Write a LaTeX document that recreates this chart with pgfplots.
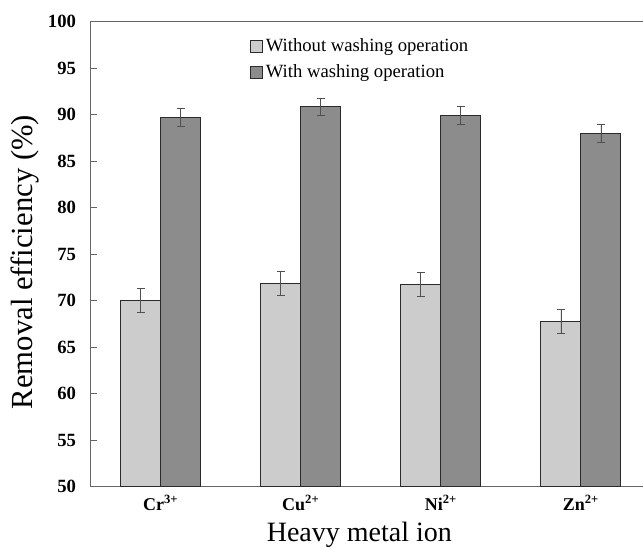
\documentclass[border=0pt]{standalone}
\usepackage{pgfplots}
\pgfplotsset{compat=1.18}
\usepackage{fontspec}
\setmainfont{Liberation Serif}

\definecolor{lightbar}{HTML}{CCCCCC}
\definecolor{darkbar}{HTML}{8C8C8C}
\definecolor{edgec}{HTML}{2A2A2A}
\definecolor{errc}{HTML}{505050}

\begin{document}
\begin{tikzpicture}
\begin{axis}[
  at={(0,0)}, anchor=south west,
  scale only axis, width=414.75pt, height=348.75pt,
  ybar=0pt, bar width=30pt,
  xmin=-0.505, xmax=3.443,
  ymin=50, ymax=100, ytick={50,55,...,100},
  xtick=data,
  xticklabels={Cr\textsuperscript{3+}, Cu\textsuperscript{2+}, Ni\textsuperscript{2+}, Zn\textsuperscript{2+}},
  axis x line=box, axis y line=left,
  axis line style={-, draw=black!60, line width=0.7pt},
  x axis line style={-},
  tick align=inside, major tick length=5pt,
  major x tick style={draw=none},
  y tick style={black!60, line width=0.6pt},
  /pgf/number format/assume math mode=true,
  yticklabel style={font=\fontsize{14}{16}\selectfont\bfseries, xshift=-7pt},
  xticklabel style={font=\fontsize{13.5}{15}\selectfont\bfseries, yshift=-3pt},
  xlabel={Heavy metal ion}, ylabel={Removal efficiency (\%)},
  every axis x label/.style={at={(axis description cs:0.487,-0.119)}, anchor=base,
    font=\fontsize{21}{25}\selectfont},
  every axis y label/.style={at={(axis description cs:-0.1175,0.483)}, rotate=90, anchor=center,
    font=\fontsize{23}{27}\selectfont},
  legend style={draw=none, fill=none, at={(axis description cs:0.289,0.919)}, anchor=west,
    font=\fontsize{14}{16}\selectfont, row sep=4pt, inner sep=0pt,
    /tikz/every even column/.append style={column sep=6pt}},
  legend cell align=left,
  legend image code/.code={\draw[#1] (0pt,-4.5pt) rectangle (9pt,4.5pt);},
  error bars/error bar style={errc, line width=0.6pt},
  error bars/error mark options={rotate=90, mark size=3pt, errc, line width=0.6pt},
]
\addplot[fill=lightbar, draw=edgec, line width=0.8pt,
  error bars/.cd, y dir=both, y explicit]
  coordinates {(0,70.0) +- (0,1.3) (1,71.85) +- (0,1.3) (2,71.75) +- (0,1.3) (3,67.8) +- (0,1.3)};
\addplot[fill=darkbar, draw=edgec, line width=0.8pt,
  error bars/.cd, y dir=both, y explicit]
  coordinates {(0,89.7) +- (0,1.0) (1,90.85) +- (0,0.95) (2,89.9) +- (0,1.0) (3,88.0) +- (0,1.0)};
\legend{Without washing operation, With washing operation}
\end{axis}
\pgfresetboundingbox
\useasboundingbox (-67.5pt,-46pt) rectangle (414.75pt,365pt);
\end{tikzpicture}
\end{document}
